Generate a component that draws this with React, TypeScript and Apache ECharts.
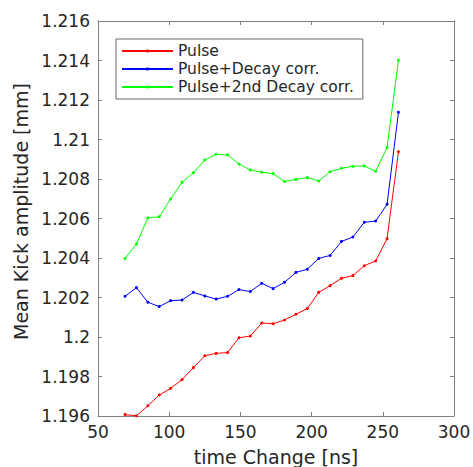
import React, { useEffect, useRef } from "react";
import * as echarts from "echarts";

const timeChange = [69, 77, 85, 93, 101, 109, 117, 125, 133, 141, 149, 157, 165, 173, 181, 189, 197, 205, 213, 221, 229, 237, 245, 253, 261];

const pulse = [1.19607, 1.19601, 1.19652, 1.19706, 1.1974, 1.19784, 1.19845, 1.19905, 1.19917, 1.19921, 1.19996, 1.20005, 1.20071, 1.20067, 1.20086, 1.20115, 1.20144, 1.20226, 1.2026, 1.20297, 1.20311, 1.20361, 1.20385, 1.20498, 1.20938];

const pulseDecay = [1.20206, 1.2025, 1.20176, 1.20154, 1.20184, 1.20187, 1.20226, 1.20208, 1.20192, 1.20206, 1.2024, 1.2023, 1.20272, 1.20245, 1.20277, 1.20327, 1.20343, 1.20398, 1.20413, 1.20484, 1.20506, 1.20581, 1.20587, 1.20672, 1.21138];

const pulse2ndDecay = [1.20398, 1.20471, 1.20603, 1.20609, 1.20699, 1.20783, 1.20832, 1.20896, 1.20925, 1.20922, 1.20876, 1.20846, 1.20834, 1.20827, 1.20787, 1.20798, 1.20807, 1.2079, 1.20837, 1.20854, 1.20864, 1.20866, 1.20839, 1.20959, 1.21401];

const seriesNames = ["Pulse", "Pulse+Decay corr.", "Pulse+2nd Decay corr."];
const seriesColors = ["#ff0000", "#0000ff", "#00ff00"];
const seriesValues = [pulse, pulseDecay, pulse2ndDecay];

const FONT = "DejaVu Sans";
const TEXT = "#262626";
const AXIS = "#808080";

export default function App() {
  const ref = useRef<HTMLDivElement>(null);
  useEffect(() => {
    document.body.style.margin = "0";
    const chart = echarts.init(ref.current!, null, { renderer: "svg" });
    const axisCommon = {
      axisLine: { show: true, lineStyle: { color: AXIS, width: 1 } },
      axisTick: { show: true, inside: true, length: 4, lineStyle: { color: AXIS } },
      splitLine: { show: false },
    };
    chart.setOption({
      animation: false,
      backgroundColor: "#ffffff",
      textStyle: { fontFamily: FONT },
      grid: { left: 98, right: 19, top: 21, bottom: 51, containLabel: false, outerBoundsMode: "none" },
      legend: {
        orient: "vertical",
        left: 116,
        top: 39,
        itemWidth: 51,
        itemHeight: 4,
        itemGap: 2,
        padding: [4, 9, 4, 5],
        borderColor: "#666666",
        borderWidth: 1,
        backgroundColor: "#ffffff",
        textStyle: { fontFamily: FONT, fontSize: 15.5, color: TEXT },
        data: seriesNames,
      },
      xAxis: [
        {
          type: "value",
          min: 50,
          max: 300,
          interval: 50,
          position: "bottom",
          name: "time Change [ns]",
          nameLocation: "middle",
          nameGap: 31,
          nameTextStyle: { fontFamily: FONT, fontSize: 19, color: TEXT },
          axisLabel: { fontFamily: FONT, fontSize: 17, color: TEXT, margin: 7 },
          ...axisCommon,
        },
        {
          type: "value",
          min: 50,
          max: 300,
          interval: 50,
          position: "top",
          axisLabel: { show: false },
          ...axisCommon,
        },
      ],
      yAxis: [
        {
          type: "value",
          min: 1.196,
          max: 1.216,
          interval: 0.002,
          position: "left",
          name: "Mean Kick amplitude [mm]",
          nameLocation: "middle",
          nameGap: 54,
          nameTextStyle: { fontFamily: FONT, fontSize: 19, color: TEXT, padding: [0, 0, 0, 14] },
          axisLabel: {
            fontFamily: FONT,
            fontSize: 17,
            color: TEXT,
            margin: 8,
            formatter: (v: number) => String(parseFloat(v.toFixed(3))),
          },
          ...axisCommon,
        },
        {
          type: "value",
          min: 1.196,
          max: 1.216,
          interval: 0.002,
          position: "right",
          axisLabel: { show: false },
          ...axisCommon,
        },
      ],
      series: seriesNames.map((name, i) => ({
        name,
        type: "line",
        xAxisIndex: 0,
        yAxisIndex: 0,
        data: timeChange.map((x, j) => [x, seriesValues[i][j]]),
        color: seriesColors[i],
        lineStyle: { color: seriesColors[i], width: 1 },
        itemStyle: { color: seriesColors[i] },
        symbol: "circle",
        symbolSize: 3,
        showSymbol: true,
      })),
    });
    return () => chart.dispose();
  }, []);
  return <div ref={ref} style={{ width: 473, height: 467 }} />;
}
